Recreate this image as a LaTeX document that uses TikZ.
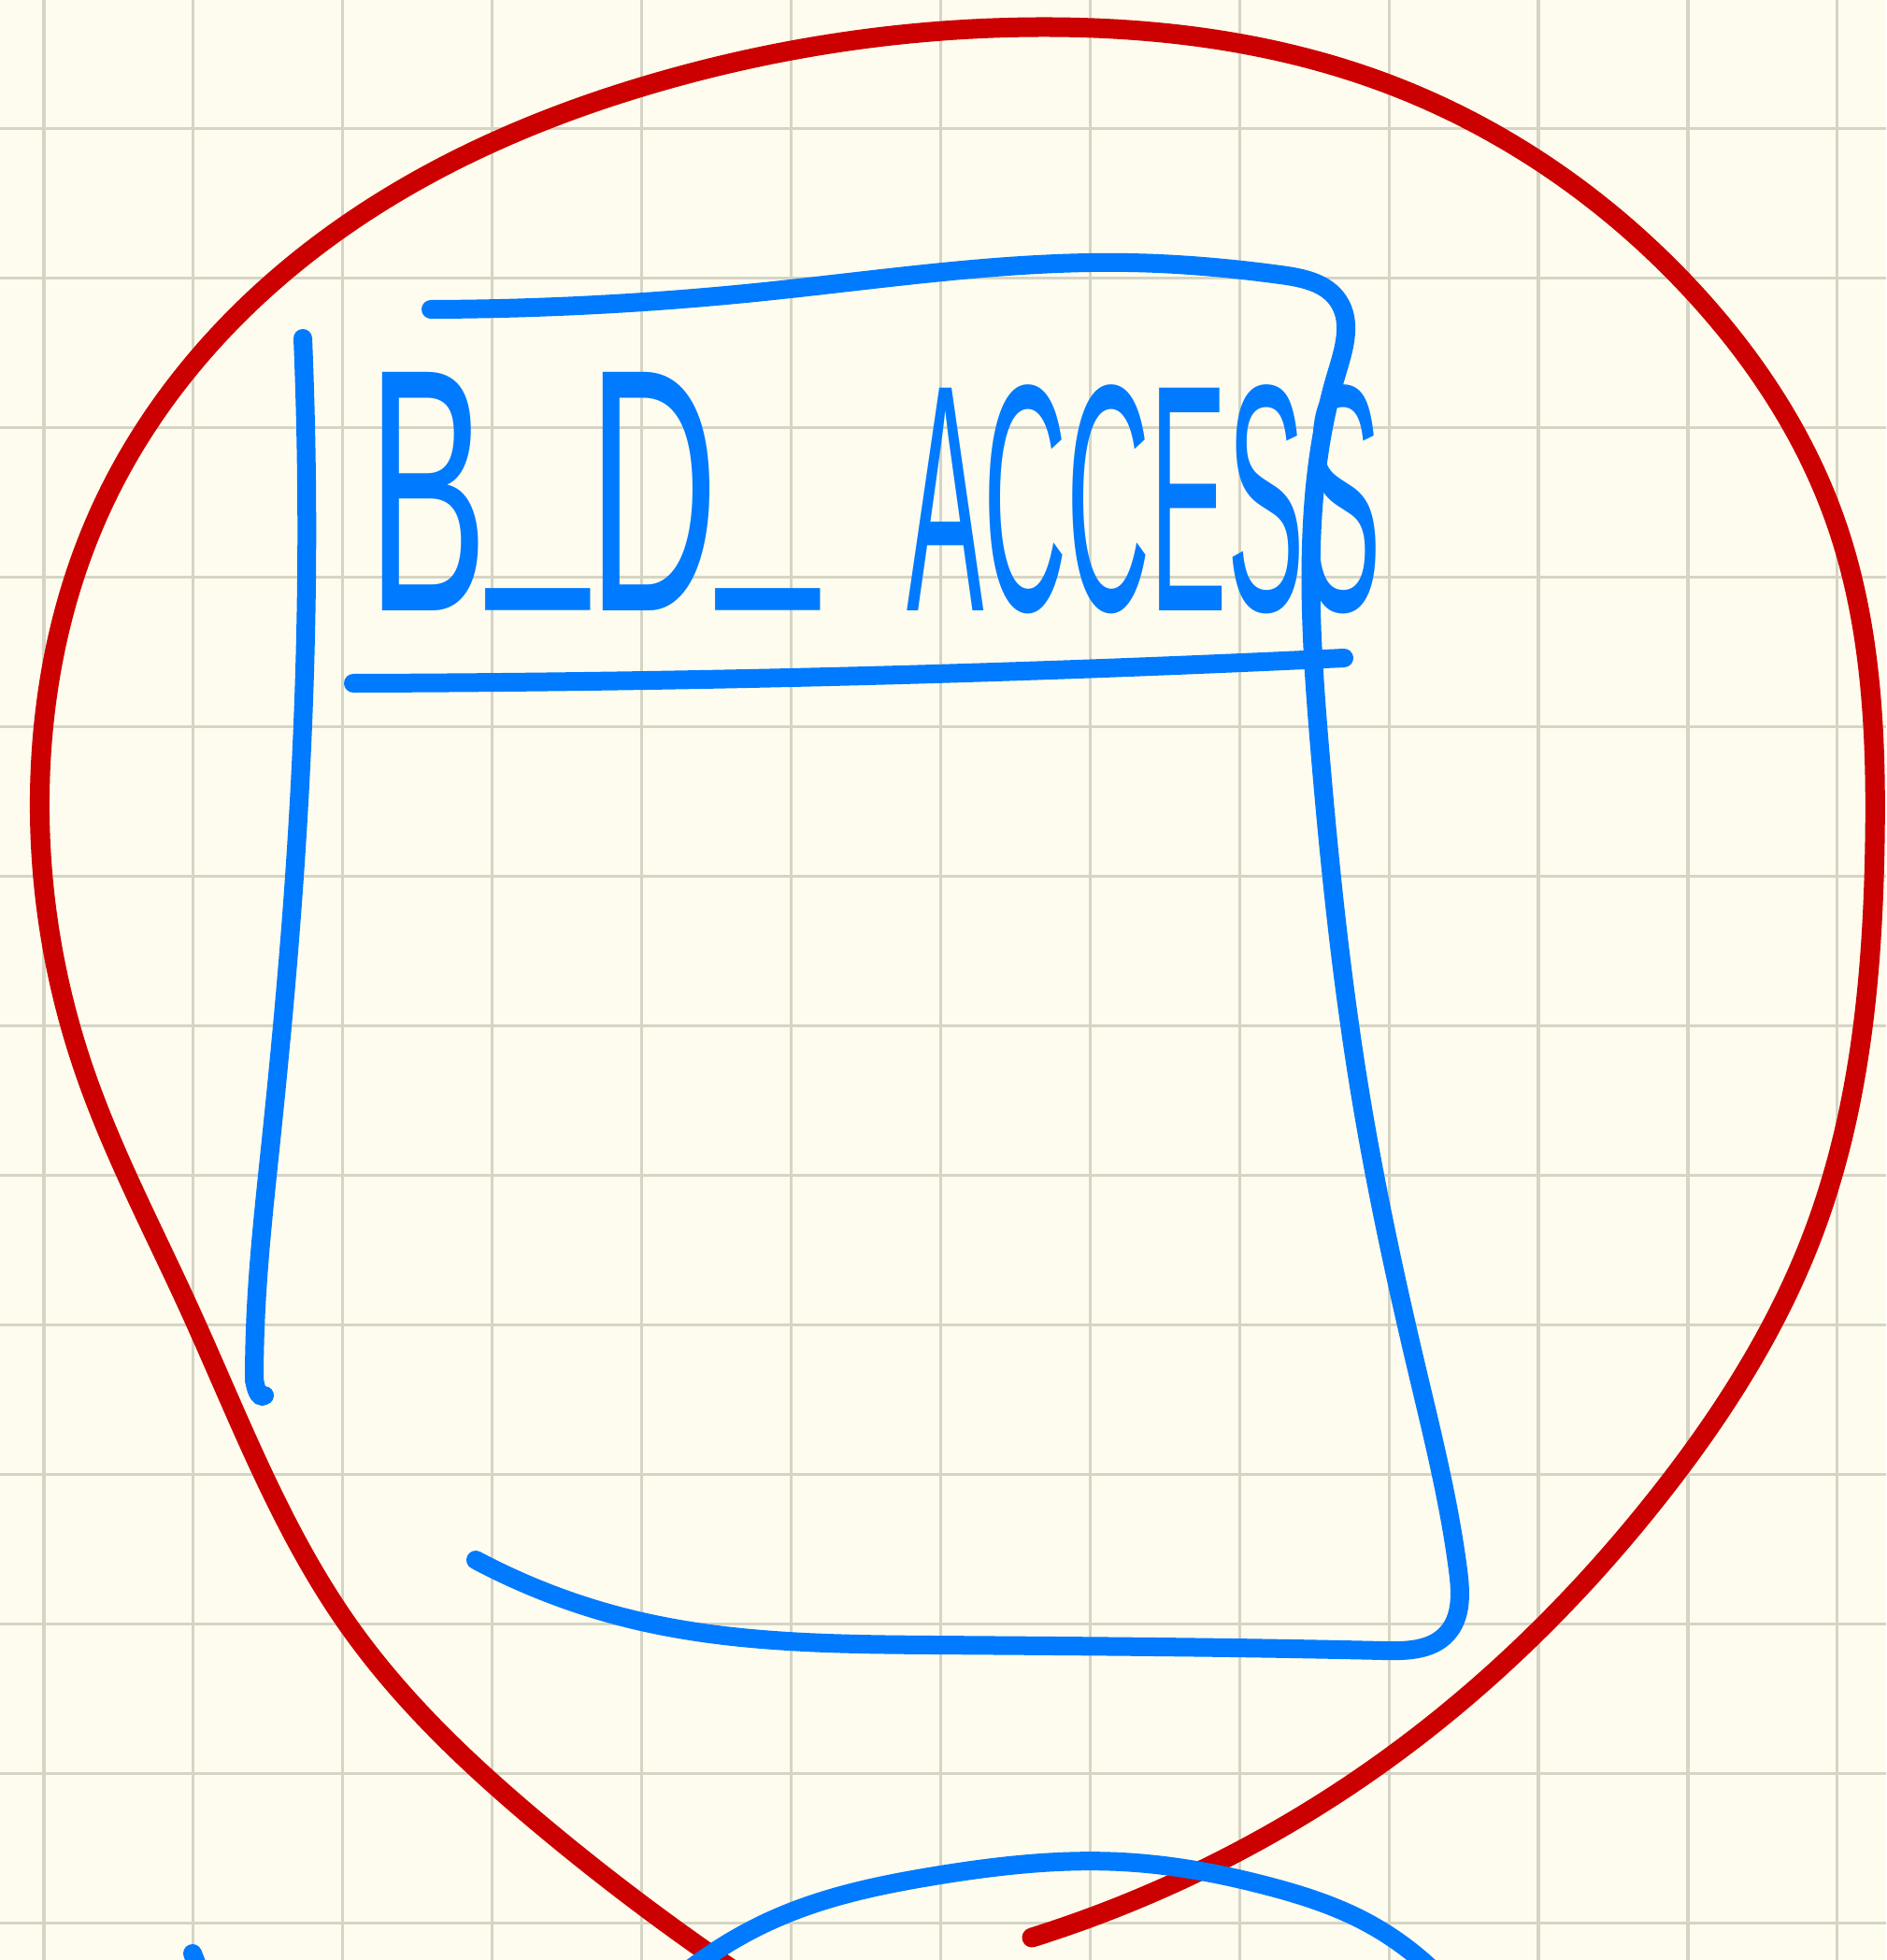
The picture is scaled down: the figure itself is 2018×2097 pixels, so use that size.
\documentclass[tikz,border=0pt]{standalone}
\usepackage{fontspec}
\usepackage{graphicx}
\usetikzlibrary{hobby}
\setmainfont{Liberation Sans}
\definecolor{paper}{RGB}{253,252,238}
\definecolor{gridc}{RGB}{214,212,196}
\definecolor{inkblue}{RGB}{0,122,255}
\definecolor{inkred}{RGB}{204,0,0}
\tikzset{
  blueink/.style={draw=inkblue, line width=0.2cm, line cap=round, line join=round, use Hobby shortcut},
  redink/.style={draw=inkred, line width=0.21cm, line cap=round, line join=round, use Hobby shortcut},
  gridline/.style={draw=gridc, line width=0.9pt},
}
\begin{document}
\begin{tikzpicture}[x=0.01cm, y=-0.01cm]
\useasboundingbox (0,0) rectangle (2018,2097);
\fill[paper] (0,0) rectangle (2018,2097);
\begin{scope}
\clip (0,0) rectangle (2018,2097);
% grid
\foreach \k in {0,...,12} {
  \draw[gridline] ({47+159.9*\k},0) -- ({47+159.9*\k},2097);
  \draw[gridline] (0,{137.5+160*\k}) -- (2018,{137.5+160*\k});
}
% red loop
\draw[redink] (795,2115) .. (583,1956) .. (372,1738) .. (201,1397) .. (89,1142)
 .. (43,830) .. (112,536) .. (357,250) .. (700,89) .. (1110,29) .. (1483,89)
 .. (1804,304) .. (1964,558) .. (2006,900) .. (1940,1320) .. (1775,1600)
 .. (1487,1880) .. (1104,2073);
% box left side
\draw[blueink] (324,362) .. (328,620) .. (315,938) .. (290,1220) .. (274,1400) .. (272,1476);
\draw[draw=inkblue, line width=0.2cm, line cap=round] (272,1476) to[out=-80,in=-150] (283,1493);
% box top, right side and bottom
\draw[blueink] (461,331) .. (808,313) .. (1207,281) .. (1370,294) .. (1432,322)
 .. (1430,400) .. (1404,560) .. (1412,800) .. (1456,1174) .. (1515,1461)
 .. (1560,1680) .. (1548,1748) .. (1480,1766) .. (1000,1760) .. (678,1733) .. (509,1669);
% header divider
\draw[blueink] (378,731) .. (888,724) .. (1438,704);
% title
\node[inkblue, inner sep=0pt] (title) at (936,528)
  {\fontsize{40}{40}\selectfont\resizebox*{4.82cm}{2.55cm}{B\raisebox{0.2em}{\_}D\raisebox{0.2em}{\_}}\hspace{0.94cm}\resizebox*{5.08cm}{2.45cm}{ACCESS}};
% lower arc
\draw[blueink] (728,2115) .. (838,2049) .. (1000,2007) .. (1200,1992) .. (1357,2018) .. (1455,2053) .. (1540,2115);
% small mark at bottom left
\draw[blueink] (206,2090) -- (214,2110);
\end{scope}
\end{tikzpicture}
\end{document}
